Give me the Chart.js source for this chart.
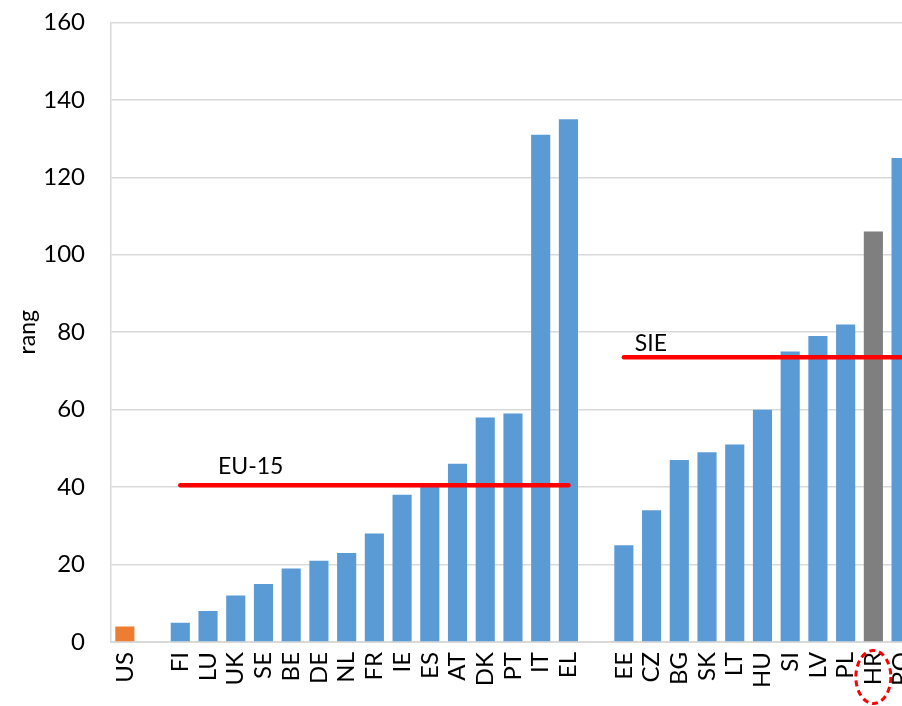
<!DOCTYPE html>
<html>
<head>
<meta charset="utf-8">
<script src="https://cdn.jsdelivr.net/npm/chart.js@4"></script>
<style>
  html, body { margin: 0; padding: 0; background: #fff; overflow: hidden; width: 902px; height: 706px; }
  #wrap { position: relative; width: 940px; height: 724px; margin-top: -18px; }
</style>
</head>
<body>
<div id="wrap"><canvas id="c" width="940" height="724"></canvas></div>
<script>
// Categories ('' = spacer slots between groups)
const categories = ['US', '', 'FI', 'LU', 'UK', 'SE', 'BE', 'DE', 'NL', 'FR', 'IE', 'ES', 'AT', 'DK', 'PT', 'IT', 'EL', '',
                    'EE', 'CZ', 'BG', 'SK', 'LT', 'HU', 'SI', 'LV', 'PL', 'HR', 'RO'];
// Rank values
const rankValues = [4, null, 5, 8, 12, 15, 19, 21, 23, 28, 38, 40, 46, 58, 59, 131, 135, null,
                    25, 34, 47, 49, 51, 60, 75, 79, 82, 106, 125];
// Group averages (EU-15 and SIE levels)
const eu15Level = [null, null, 40.5, 40.5, 40.5, 40.5, 40.5, 40.5, 40.5, 40.5, 40.5, 40.5, 40.5, 40.5, 40.5, 40.5, 40.5, null,
                   null, null, null, null, null, null, null, null, null, null, null];
const sieLevel = [null, null, null, null, null, null, null, null, null, null, null, null, null, null, null, null, null, null,
                  73.5, 73.5, 73.5, 73.5, 73.5, 73.5, 73.5, 73.5, 73.5, 73.5, 73.5];
const yTicks = [0, 20, 40, 60, 80, 100, 120, 140, 160];

const FONT = 'Lato, "Open Sans", sans-serif';
const barColors = categories.map(c => c === 'US' ? '#ED7D31' : (c === 'HR' ? '#7F7F7F' : '#5B9BD5'));

const annotations = {
  id: 'annotations',
  afterDatasetsDraw(chart) {
    const ctx = chart.ctx;
    const x = chart.scales.x, y = chart.scales.y;
    ctx.save();
    ctx.fillStyle = '#000';
    ctx.font = '23px ' + FONT;
    ctx.textAlign = 'left';
    ctx.textBaseline = 'alphabetic';
    ctx.fillText('EU-15', x.getPixelForValue(categories.indexOf('LU')) + 10, y.getPixelForValue(40.5) - 11);
    ctx.fillText('SIE', x.getPixelForValue(categories.indexOf('EE')) + 11, y.getPixelForValue(73.5) - 6);
    // dashed ellipse around HR label
    const hx = x.getPixelForValue(categories.indexOf('HR'));
    ctx.strokeStyle = '#FF0000';
    ctx.lineWidth = 3;
    ctx.setLineDash([6, 4]);
    ctx.beginPath();
    ctx.ellipse(hx, y.bottom + 35, 17.5, 26.5, 0, 0, Math.PI * 2);
    ctx.stroke();
    ctx.restore();
  }
};

new Chart(document.getElementById('c'), {
  data: {
    labels: categories,
    datasets: [
      { type: 'line', data: eu15Level, borderColor: '#FF0000', borderWidth: 4.5, borderCapStyle: 'round',
        pointRadius: 0, spanGaps: false, order: 0 },
      { type: 'line', data: sieLevel, borderColor: '#FF0000', borderWidth: 4.5, borderCapStyle: 'round',
        pointRadius: 0, spanGaps: false, order: 0 },
      { type: 'bar', data: rankValues, backgroundColor: barColors, borderWidth: 0,
        categoryPercentage: 1, barPercentage: 0.69, order: 1 }
    ]
  },
  options: {
    responsive: false,
    animation: false,
    devicePixelRatio: 1,
    layout: { padding: { top: 4, right: 7, left: 0, bottom: 0 } },
    plugins: { legend: { display: false }, tooltip: { enabled: false } },
    scales: {
      x: {
        grid: { display: false, drawTicks: false },
        border: { display: true, color: '#D9D9D9', width: 2 },
        ticks: { color: '#000', font: { family: FONT, size: 24 }, maxRotation: 90, minRotation: 90, padding: 10, autoSkip: false },
        afterFit(axis) { axis.height = 64; }
      },
      y: {
        min: 0, max: 160,
        afterBuildTicks(axis) { axis.ticks = yTicks.map(v => ({ value: v })); },
        grid: { color: '#D9D9D9', lineWidth: 1.5, drawTicks: false },
        border: { display: true, color: '#D9D9D9', width: 1.5 },
        ticks: { color: '#000', font: { family: FONT, size: 24 }, padding: 26 },
        title: { display: true, text: 'rang', color: '#000', font: { family: FONT, size: 23 }, padding: { top: 14, bottom: 0 } },
        afterFit(axis) { axis.width = 111; }
      }
    }
  },
  plugins: [annotations]
});
</script>
</body>
</html>
